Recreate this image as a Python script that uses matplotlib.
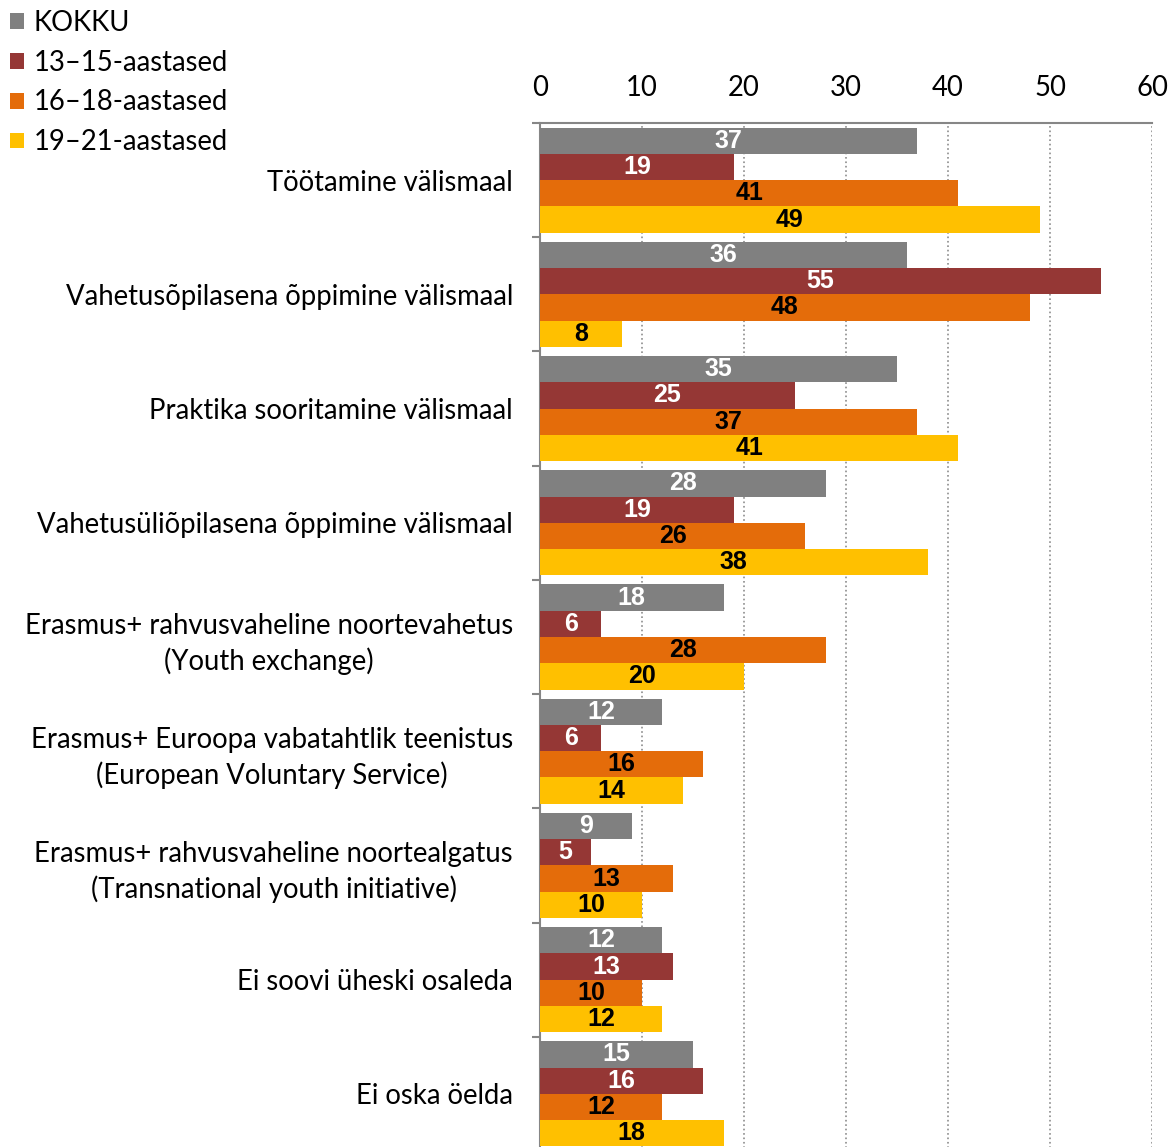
import numpy as np
import matplotlib
matplotlib.use("Agg")
import matplotlib.pyplot as plt

# data
categories = [
    "Töötamine välismaal",
    "Vahetusõpilasena õppimine välismaal",
    "Praktika sooritamine välismaal",
    "Vahetusüliõpilasena õppimine välismaal",
    "Erasmus+ rahvusvaheline noortevahetus\n(Youth exchange)",
    "Erasmus+ Euroopa vabatahtlik teenistus\n(European Voluntary Service)",
    "Erasmus+ rahvusvaheline noortealgatus\n(Transnational youth initiative)",
    "Ei soovi üheski osaleda",
    "Ei oska öelda",
]
kokku = [37, 36, 35, 28, 18, 12, 9, 12, 15]
age_13_15 = [19, 55, 25, 19, 6, 6, 5, 13, 16]
age_16_18 = [41, 48, 37, 26, 28, 16, 13, 10, 12]
age_19_21 = [49, 8, 41, 38, 20, 14, 10, 12, 18]
series_names = ["KOKKU", "13–15-aastased", "16–18-aastased", "19–21-aastased"]
x_ticks = [0, 10, 20, 30, 40, 50, 60]

colors = ["#808080", "#953735", "#E46C0A", "#FFC000"]
label_colors = ["white", "white", "black", "black"]

plt.rcParams["font.family"] = ["Lato", "DejaVu Sans"]
fs = 19.8

W, H = 1175, 1147
fig = plt.figure(figsize=(W / 100, H / 100), dpi=100)
ax = fig.add_axes([540 / W, 1 - 1151 / H, 612 / W, 1028 / H])

n = len(categories)
y = np.arange(n)
h = 0.23
series = [kokku, age_13_15, age_16_18, age_19_21]
containers = []
for i, vals in enumerate(series):
    bc = ax.barh(y + (i - 1.5) * h, vals, height=h, color=colors[i],
                 label=series_names[i], zorder=3)
    containers.append(bc)
    ax.bar_label(bc, label_type="center", color=label_colors[i],
                 fontsize=18, fontweight="bold", family="Liberation Sans")

ax.set_xlim(0, 60)
ax.set_ylim(n - 0.5, -0.5)

ax.xaxis.tick_top()
ax.set_xticks(x_ticks)
ax.tick_params(axis="x", length=0, pad=16, labelsize=fs)
ax.xaxis.grid(True, linestyle=":", color="#8c8c8c", linewidth=1.2, zorder=0)

ax.set_yticks(y)
ax.set_yticklabels(categories, multialignment="center", fontsize=fs,
                   linespacing=1.38)
ax.tick_params(axis="y", which="major", length=0, pad=19.5)
ax.set_yticks(np.arange(-0.5, n, 1), minor=True)
ax.tick_params(axis="y", which="minor", length=6, color="#868686", width=1.5)

for s in ["right", "bottom"]:
    ax.spines[s].set_visible(False)
for s in ["top", "left"]:
    ax.spines[s].set_color("#868686")
    ax.spines[s].set_linewidth(1.5)

fig.legend(handles=containers, loc="upper left",
           bbox_to_anchor=(10 / W, 1 - 10 / H), frameon=False,
           fontsize=fs, handlelength=0.5, handleheight=0.5,
           handletextpad=0.35, labelspacing=0.5, borderpad=0,
           borderaxespad=0)

fig.savefig("out.png", dpi=100)
